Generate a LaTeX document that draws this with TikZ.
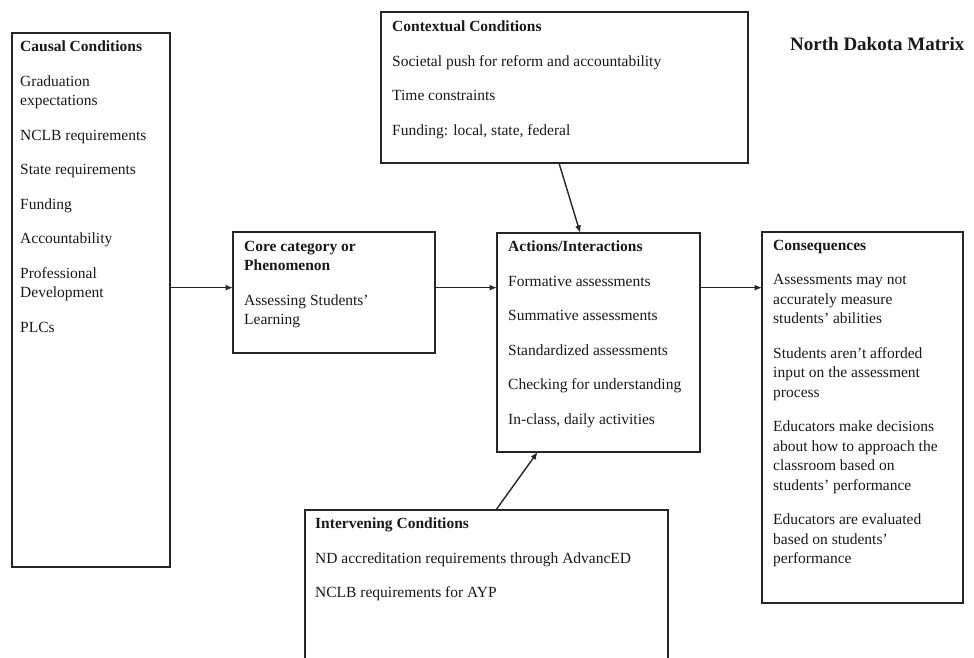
\documentclass[tikz,border=0pt]{standalone}
\usepackage{fontspec}
\setmainfont{Liberation Serif}
\usetikzlibrary{arrows.meta,calc}
\begin{document}
\begin{tikzpicture}[x=1pt,y=-1pt,
  box/.style={draw=black!85,line width=1.4pt,anchor=north west,inner sep=0pt,outer sep=0pt},
  txt/.style={anchor=north west,inner sep=0pt,align=left,font=\fontsize{15.5}{19.5}\selectfont,text=black!90},
  arr/.style={draw=black!85,line width=1.4pt,-{Latex[length=7.5pt,width=6pt]}}]
\useasboundingbox[fill=white] (0,0) rectangle (974,657);

% boxes
\node[box,minimum width=158pt,minimum height=534pt] (causal) at (12,33) {};
\node[box,minimum width=202pt,minimum height=121pt] (core) at (233,232) {};
\node[box,minimum width=367pt,minimum height=151pt] (ctx) at (381,12) {};
\node[box,minimum width=203pt,minimum height=219pt] (act) at (497,233) {};
\node[box,minimum width=201pt,minimum height=371pt] (cons) at (762,232) {};
\node[box,minimum width=363pt,minimum height=160pt] (inter) at (305,510) {};

% texts
\node[txt] (causalT) at (20,41) {\textbf{Causal Conditions}\\[15pt]
Graduation\\ expectations\\[15pt]
NCLB requirements\\[15pt]
State requirements\\[15pt]
Funding\\[15pt]
Accountability\\[15pt]
Professional\\ Development\\[15pt]
PLCs};

\node[txt] (coreT) at (244,241) {\textbf{Core category or}\\ \textbf{Phenomenon}\\[15pt]
Assessing Students'\\ Learning};

\node[txt] (ctxT) at (392,21) {\textbf{Contextual Conditions}\\[15pt]
Societal push for reform and accountability\\[15pt]
Time constraints\\[15pt]
Funding: local, state, federal};

\node[txt] (actT) at (508,241) {\textbf{Actions/Interactions}\\[15pt]
Formative assessments\\[15pt]
Summative assessments\\[15pt]
Standardized assessments\\[15pt]
Checking for understanding\\[15pt]
In-class, daily activities};

\node[txt] (consT) at (773,240) {\textbf{Consequences}\\[15pt]
Assessments may not\\ accurately measure\\ students' abilities\\[15pt]
Students aren't afforded\\ input on the assessment\\ process\\[15pt]
Educators make decisions\\ about how to approach the\\ classroom based on\\ students' performance\\[15pt]
Educators are evaluated\\ based on students'\\ performance};

\node[txt] (interT) at (315,518) {\textbf{Intervening Conditions}\\[15pt]
ND accreditation requirements through AdvancED\\[15pt]
NCLB requirements for AYP};

\node[txt,anchor=west,font=\fontsize{19}{22}\selectfont\bfseries] (title) at (790,44) {North Dakota Matrix};

% connectors
\coordinate (mid) at ($(core.north west)!0.46!(core.south west)$);
\draw[arr] (causal.east |- mid) -- (mid);
\draw[arr] (core.east |- mid) -- (act.west |- mid);
\draw[arr] (act.east |- mid) -- (cons.west |- mid);
\draw[arr] ($(ctx.south west)!0.485!(ctx.south east)$) -- ($(act.north west)!0.41!(act.north east)$);
\draw[arr] ($(inter.north west)!0.526!(inter.north east)$) -- ($(act.south west)!0.2!(act.south east)$);
\end{tikzpicture}
\end{document}
